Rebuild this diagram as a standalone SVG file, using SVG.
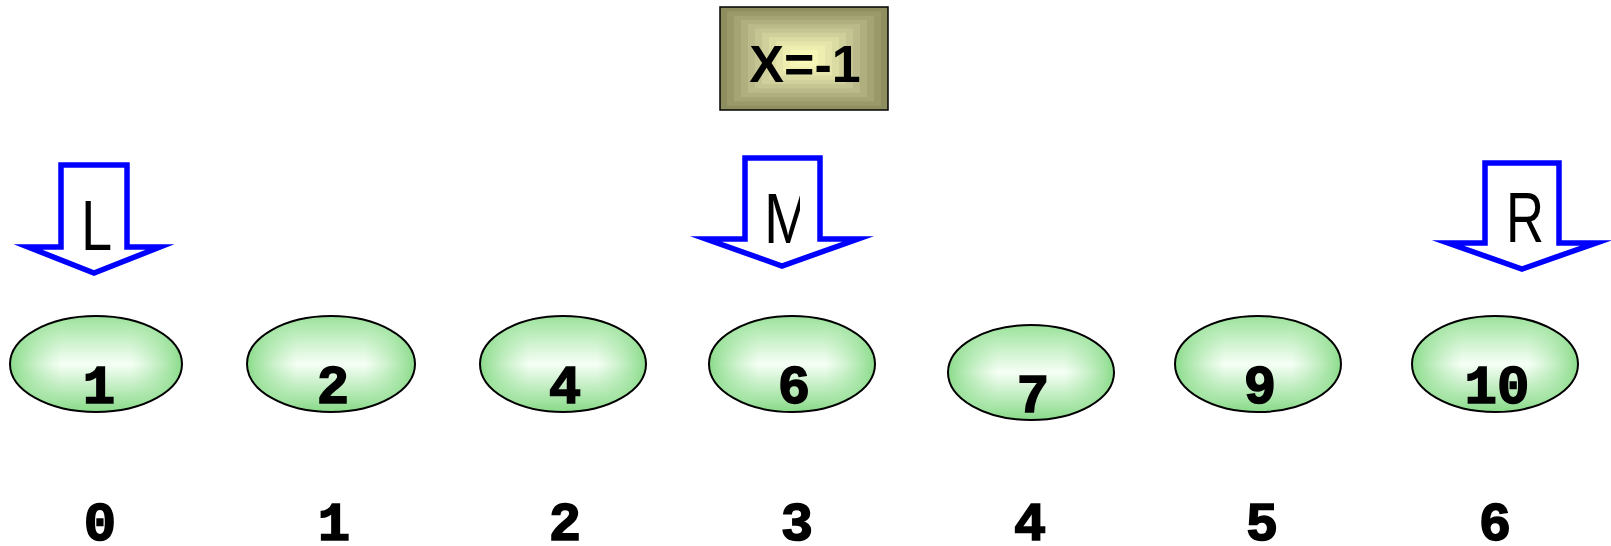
<svg xmlns="http://www.w3.org/2000/svg" width="1611" height="546" viewBox="0 0 1611 546">
<style>
.arrow{fill:#fff;stroke:#0000ff;stroke-width:5.5;stroke-miterlimit:12;stroke-linejoin:miter}
.lbl{font-family:"Liberation Sans",Arial,sans-serif;font-size:70px;fill:#000}
.node{stroke:#000;stroke-width:2}
.num{font-family:"Liberation Mono","Courier New",monospace;font-weight:bold;font-size:54px;fill:#000;stroke:#000;stroke-width:1.6;text-anchor:middle}
.title{font-family:"Liberation Sans",Arial,sans-serif;font-weight:bold;font-size:52px;fill:#000;text-anchor:middle}
</style>
<defs>
<linearGradient id="gv" x1="0" y1="0" x2="0" y2="1">
<stop offset="0" stop-color="#9be29b"/>
<stop offset="0.5" stop-color="#f6fff6"/>
<stop offset="1" stop-color="#88da88"/>
</linearGradient>
<linearGradient id="gh" x1="0" y1="0" x2="1" y2="0">
<stop offset="0" stop-color="#8adb8a" stop-opacity="1"/>
<stop offset="0.3" stop-color="#a8e6a8" stop-opacity="0"/>
<stop offset="0.7" stop-color="#a8e6a8" stop-opacity="0"/>
<stop offset="1" stop-color="#8adb8a" stop-opacity="1"/>
</linearGradient>
<clipPath id="clipM"><rect x="740" y="180" width="60" height="70"/></clipPath>
<clipPath id="clipR"><rect x="1480" y="180" width="62" height="70"/></clipPath>
</defs>

<g id="box-x">
<rect x="720" y="7" width="168" height="103" fill="#8e8e5e"/>
<rect x="727" y="11.3" width="154" height="94.4" fill="#99996a"/>
<rect x="734" y="15.6" width="140" height="85.8" fill="#a4a475"/>
<rect x="741" y="19.9" width="126" height="77.2" fill="#afaf80"/>
<rect x="748" y="24.2" width="112" height="68.6" fill="#baba8a"/>
<rect x="755" y="28.5" width="98" height="60" fill="#c5c593"/>
<rect x="762" y="32.8" width="84" height="51.4" fill="#d0d09c"/>
<rect x="769" y="37.1" width="70" height="42.8" fill="#dbdba4"/>
<rect x="776" y="41.4" width="56" height="34.2" fill="#e5e5ab"/>
<rect x="783" y="45.7" width="42" height="25.6" fill="#eeeeb1"/>
<rect x="790" y="50" width="28" height="17" fill="#f6f6b6"/>
<rect x="797" y="54.3" width="14" height="8.4" fill="#fcfcba"/>
<rect x="720" y="7" width="168" height="103" fill="none" stroke="#000" stroke-width="1.5"/>
<text class="title" x="805" y="82">X=-1</text>
</g>

<g id="arrow-L">
<polygon class="arrow" points="61,165 127,165 127,247 160,247 94,273 28,247 61,247"/>
<text class="lbl" transform="translate(81,250) scale(0.8,1)">L</text>
</g>
<g id="arrow-M">
<polygon class="arrow" points="745,158 820,158 820,239 858,239 782,266 706,239 745,239"/>
<text class="lbl" clip-path="url(#clipM)" x="764" y="243" textLength="48" lengthAdjust="spacingAndGlyphs">M</text>
</g>
<g id="arrow-R">
<polygon class="arrow" points="1485,163 1559,163 1559,243 1596,243 1522,269 1448,243 1485,243"/>
<text class="lbl" clip-path="url(#clipR)" x="1506" y="242" textLength="38" lengthAdjust="spacingAndGlyphs">R</text>
</g>

<g id="node-0">
<ellipse cx="96" cy="364" rx="86" ry="48" fill="url(#gv)"/>
<ellipse class="node" cx="96" cy="364" rx="86" ry="48" fill="url(#gh)"/>
<text class="num" x="99" y="403">1</text>
</g>
<g id="node-1">
<ellipse cx="331" cy="364" rx="84" ry="48" fill="url(#gv)"/>
<ellipse class="node" cx="331" cy="364" rx="84" ry="48" fill="url(#gh)"/>
<text class="num" x="333" y="403">2</text>
</g>
<g id="node-2">
<ellipse cx="563" cy="364" rx="83" ry="48" fill="url(#gv)"/>
<ellipse class="node" cx="563" cy="364" rx="83" ry="48" fill="url(#gh)"/>
<text class="num" x="565" y="403">4</text>
</g>
<g id="node-3">
<ellipse cx="792" cy="364" rx="83" ry="48" fill="url(#gv)"/>
<ellipse class="node" cx="792" cy="364" rx="83" ry="48" fill="url(#gh)"/>
<text class="num" x="794" y="403">6</text>
</g>
<g id="node-4">
<ellipse cx="1031" cy="372.5" rx="83" ry="47.5" fill="url(#gv)"/>
<ellipse class="node" cx="1031" cy="372.5" rx="83" ry="47.5" fill="url(#gh)"/>
<text class="num" x="1033" y="412">7</text>
</g>
<g id="node-5">
<ellipse cx="1258" cy="364" rx="83" ry="48" fill="url(#gv)"/>
<ellipse class="node" cx="1258" cy="364" rx="83" ry="48" fill="url(#gh)"/>
<text class="num" x="1260" y="403">9</text>
</g>
<g id="node-6">
<ellipse cx="1495" cy="364" rx="83" ry="48" fill="url(#gv)"/>
<ellipse class="node" cx="1495" cy="364" rx="83" ry="48" fill="url(#gh)"/>
<text class="num" x="1497" y="403">10</text>
</g>

<g id="indices">
<text class="num" x="100" y="540">0</text>
<text class="num" x="334" y="540">1</text>
<text class="num" x="565" y="540">2</text>
<text class="num" x="797" y="540">3</text>
<text class="num" x="1030" y="540">4</text>
<text class="num" x="1262" y="540">5</text>
<text class="num" x="1495" y="540">6</text>
</g>
<g id="connectors"></g>
</svg>
